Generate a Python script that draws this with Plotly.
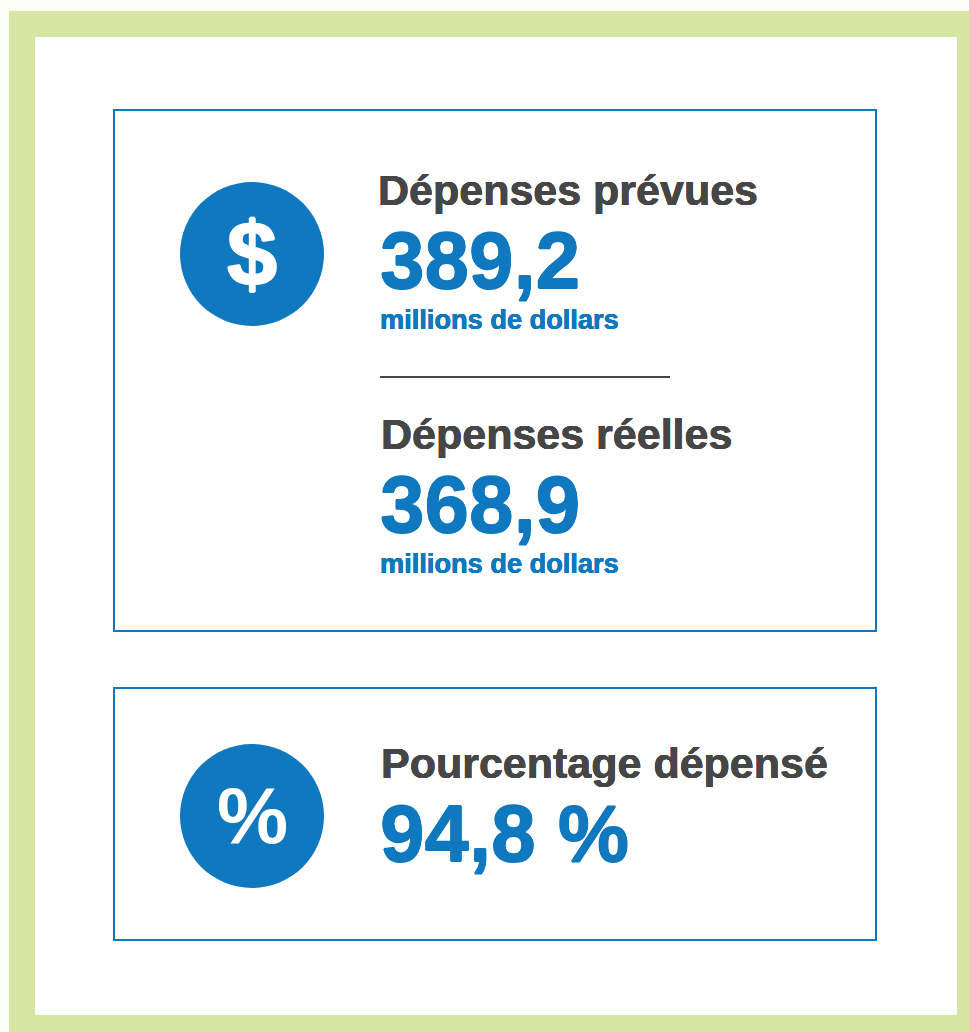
import plotly.graph_objects as go

headings = ["Dépenses prévues", "Dépenses réelles", "Pourcentage dépensé"]
values = ["389,2", "368,9", "94,8 %"]
units = ["millions de dollars", "millions de dollars", ""]
icons = ["$", "%"]

BLUE = "#0F78BE"
GREY = "#464646"
GREEN = "#D7E7A1"
FONT = "Liberation Sans"

W, H = 969, 1032
fig = go.Figure()
shapes = [
    dict(type="rect", x0=9, y0=11, x1=969, y1=1032, fillcolor=GREEN, line_width=0, layer="below"),
    dict(type="rect", x0=35, y0=37, x1=957, y1=1015, fillcolor="white", line_width=0, layer="below"),
    dict(type="rect", x0=114, y0=110, x1=876, y1=631, line=dict(color=BLUE, width=2), fillcolor="rgba(0,0,0,0)"),
    dict(type="rect", x0=114, y0=688, x1=876, y1=940, line=dict(color=BLUE, width=2), fillcolor="rgba(0,0,0,0)"),
    dict(type="circle", x0=180, y0=182, x1=324, y1=326, fillcolor=BLUE, line_width=0),
    dict(type="circle", x0=180, y0=744, x1=324, y1=888, fillcolor=BLUE, line_width=0),
    dict(type="line", x0=380, y0=377, x1=670, y1=377, line=dict(color=GREY, width=2)),
]

def label(x, y, text, size, color, anchor="left", thick=0.0):
    font = dict(family=FONT, size=size, color=color)
    if thick:
        t = thick
        font["shadow"] = f"{t}px 0 0 {color}, -{t}px 0 0 {color}, 0 {t}px 0 {color}, 0 -{t}px 0 {color}"
    fig.add_annotation(x=x, y=y, text=f"<b>{text}</b>", showarrow=False, xanchor=anchor, yanchor="middle",
                       font=font, xref="x", yref="y")

label(376, 190, headings[0], 43, GREY, thick=0.25)
label(378, 260, values[0], 80, BLUE, thick=0.6)
label(378, 319, units[0], 27.2, BLUE, thick=0.15)
label(379, 434, headings[1], 43, GREY, thick=0.25)
label(378, 504, values[1], 80, BLUE, thick=0.6)
label(378, 563, units[1], 27.2, BLUE, thick=0.15)
label(379, 763, headings[2], 43, GREY, thick=0.25)
label(378, 833, values[2], 80, BLUE, thick=0.6)
label(252, 254, icons[0], 90, "white", "center", thick=1.0)
label(252, 815, icons[1], 80, "white", "center")

fig.update_layout(
    width=W, height=H, margin=dict(l=0, r=0, t=0, b=0), paper_bgcolor="#FDFEF8", plot_bgcolor="rgba(0,0,0,0)",
    shapes=shapes, showlegend=False,
    xaxis=dict(range=[0, W], visible=False, fixedrange=True),
    yaxis=dict(range=[H, 0], visible=False, fixedrange=True),
)
fig.write_html("out.html", config=dict(displayModeBar=False),
               post_script="document.body.style.margin='0';document.documentElement.style.overflow='hidden';")
